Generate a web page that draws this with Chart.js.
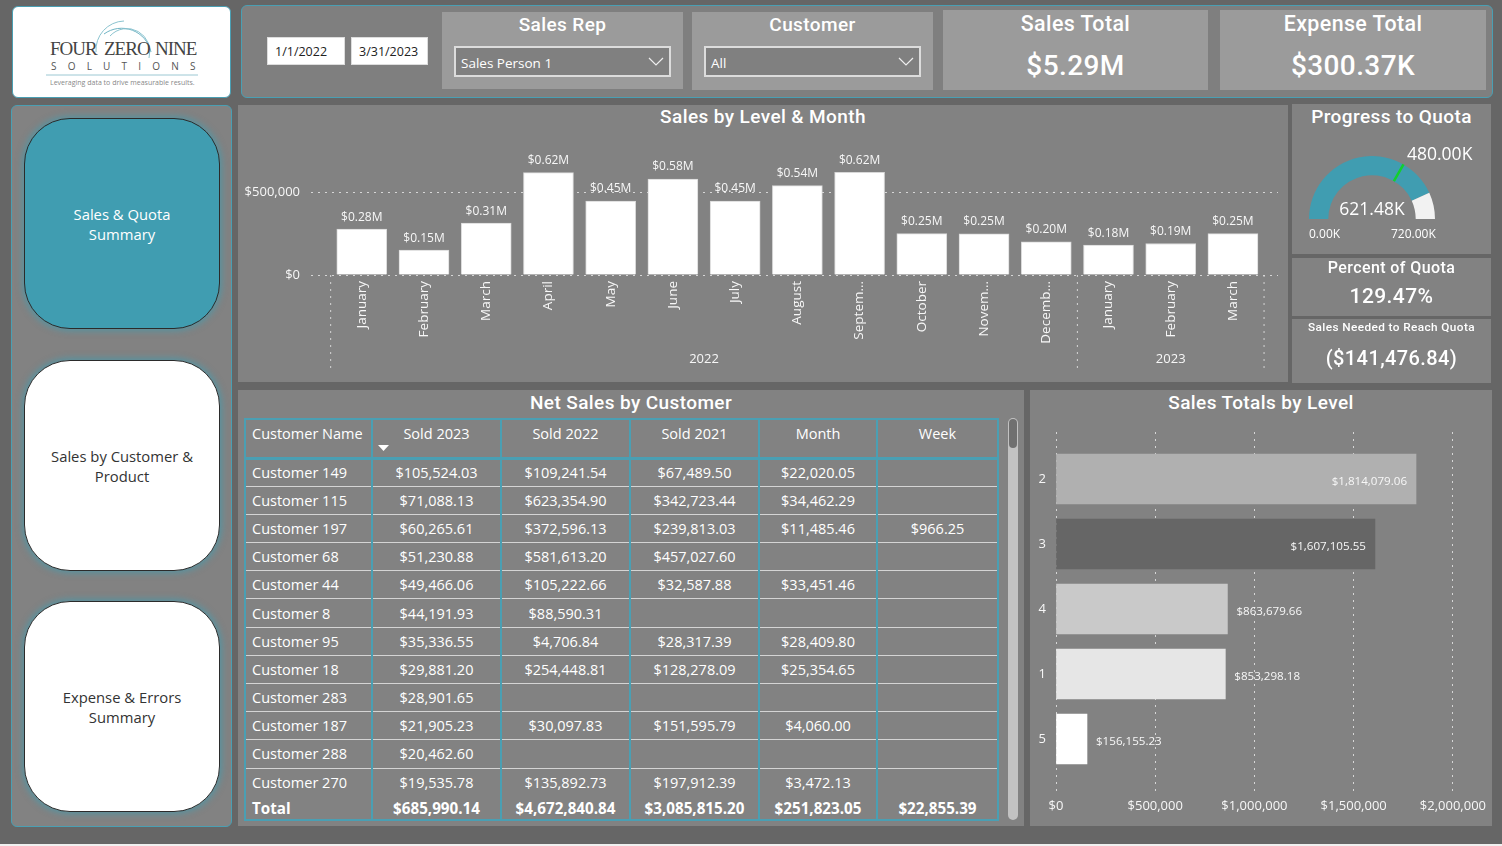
<!DOCTYPE html>
<html>
<head>
<meta charset="utf-8">
<title>Sales Dashboard</title>
<script src="https://cdn.jsdelivr.net/npm/chart.js@4"></script>
<style>
  html, body { margin: 0; padding: 0; }
  body { width: 1502px; height: 846px; background: #666; position: relative; overflow: hidden; font-family: "Open Sans", sans-serif; color: #fff; }
  .box { position: absolute; box-sizing: border-box; }
  .panel { background: #828282; }
  .teal { border: 1px solid #4a9fb3; border-radius: 6px; }
  .card { background: #9b9b9b; }
  .din { font-family: Roboto, sans-serif; font-weight: 500; letter-spacing: .4px; text-align: center; white-space: nowrap; }
  .txt { position: absolute; white-space: nowrap; }
  .date { background: #fff; color: #222; border: 1px solid #ddd; font-size: 12.5px; line-height: 28px; padding-left: 7px; }
  .drop { background: #808080; border: 2px solid #dcdcdc; font-size: 13.5px; line-height: 30px; padding-left: 5px; }
  .drop svg { position: absolute; right: 5px; top: 9px; }
  .nav { border: 1px solid #2b2b2b; border-radius: 46px; box-shadow: 0 0 6px 2px rgba(64,157,177,.65); display: flex; align-items: center; justify-content: center; text-align: center; font-size: 14.8px; line-height: 20px; background: #fff; color: #333; }
  canvas { position: absolute; }
  table { position: absolute; left: 244px; top: 418px; width: 753px; border-collapse: collapse; table-layout: fixed; font-size: 14.5px; }
  th { font-weight: 400; height: 39px; box-sizing: border-box; padding: 0 0 9px; border: 2px solid #4a9fb3; border-width: 2px 2px 3px 2px; position: relative; }
  td { height: 28.2px; padding: 0; text-align: center; border-left: 2px solid #4a9fb3; border-right: 2px solid #4a9fb3; border-bottom: 1px solid #d4d4d4; box-sizing: border-box; white-space: nowrap; }
  td:first-child, th:first-child { text-align: left; padding-left: 6px; }
  tr.last td { border-bottom: none; }
  tr.total td { font-weight: 700; font-size: 15.2px; height: 24px; border-bottom: 2px solid #4a9fb3; }
</style>
</head>
<body>

<div class="box" style="left:12px;top:6px;width:219px;height:92px;background:#fff;border:1px solid #4a9fb3;border-radius:6px;"></div>
<svg class="box" style="left:12px;top:6px;" width="219" height="92">
  <path d="M 84 46 A 29 29 0 0 1 112 15" fill="none" stroke="#8cc4d0" stroke-width="1"/>
  <path d="M 92 28 A 30 30 0 0 1 139 46" fill="none" stroke="#6fb4c4" stroke-width="1"/>
  <path d="M 98 30 A 23 23 0 0 1 137 52" fill="none" stroke="#8cc4d0" stroke-width="1"/>
  <line x1="34" y1="69" x2="186" y2="69" stroke="#9cc8d3" stroke-width="1"/>
  <text x="38" y="49" font-family="Liberation Serif" font-size="19" letter-spacing="-1" fill="#444">FOUR</text>
  <text x="92" y="49" font-family="Liberation Serif" font-size="19" letter-spacing="-1" fill="#444">ZERO</text>
  <text x="143" y="49" font-family="Liberation Serif" font-size="19" letter-spacing="-1" fill="#444">NINE</text>
  <text x="39" y="64" font-family="Open Sans" font-size="10" letter-spacing="11.2" fill="#555">SOLUTIONS</text>
  <text x="38" y="79" font-family="Open Sans" font-size="7" fill="#888">Leveraging data to drive measurable results.</text>
</svg>

<div class="box teal" style="left:241px;top:5px;width:1252px;height:93px;background:#7f7f7f;"></div>
<div class="box date" style="left:267px;top:37px;width:78px;height:28px;">1/1/2022</div>
<div class="box date" style="left:351px;top:37px;width:77px;height:28px;">3/31/2023</div>

<div class="box card" style="left:442px;top:12px;width:241px;height:77px;"></div>
<div class="txt din" style="left:442px;width:241px;top:13px;font-size:19px;">Sales Rep</div>
<div class="box drop" style="left:454px;top:46px;width:217px;height:31px;">Sales Person 1
  <svg width="16" height="10"><polyline points="1,1 8,8 15,1" fill="none" stroke="#eee" stroke-width="1.2"/></svg></div>

<div class="box card" style="left:692px;top:12px;width:241px;height:78px;"></div>
<div class="txt din" style="left:692px;width:241px;top:13px;font-size:19px;">Customer</div>
<div class="box drop" style="left:704px;top:46px;width:217px;height:31px;">All
  <svg width="16" height="10"><polyline points="1,1 8,8 15,1" fill="none" stroke="#eee" stroke-width="1.2"/></svg></div>

<div class="box card" style="left:943px;top:10px;width:265px;height:80px;"></div>
<div class="txt din" style="left:943px;width:265px;top:11px;font-size:21.4px;">Sales Total</div>
<div class="txt din" style="left:943px;width:265px;top:49px;font-size:28px;">$5.29M</div>

<div class="box card" style="left:1220px;top:10px;width:266px;height:80px;"></div>
<div class="txt din" style="left:1220px;width:266px;top:11px;font-size:21.4px;">Expense Total</div>
<div class="txt din" style="left:1220px;width:266px;top:49px;font-size:28px;">$300.37K</div>

<div class="box teal" style="left:11px;top:105px;width:221px;height:722px;background:#828282;"></div>
<div class="box nav" style="left:24px;top:118px;width:196px;height:211px;background:#409db1;color:#fff;">Sales &amp; Quota<br>Summary</div>
<div class="box nav" style="left:24px;top:360px;width:196px;height:211px;">Sales by Customer &amp;<br>Product</div>
<div class="box nav" style="left:24px;top:601px;width:196px;height:211px;">Expense &amp; Errors<br>Summary</div>

<div class="box panel" style="left:238px;top:105px;width:1050px;height:277px;"></div>
<div class="txt din" style="left:238px;width:1050px;top:105px;font-size:19px;">Sales by Level &amp; Month</div>
<canvas id="chartMonths" width="1050" height="277" style="left:238px;top:105px;"></canvas>

<div class="box panel" style="left:1292px;top:104px;width:199px;height:150px;"></div>
<div class="txt din" style="left:1292px;width:199px;top:105px;font-size:19px;">Progress to Quota</div>
<canvas id="chartGauge" width="126" height="63" style="left:1309px;top:156px;"></canvas>
<div class="txt" style="left:1407px;top:141px;font-size:17.5px;" id="gaugeTarget"></div>
<div class="txt" style="left:1292px;width:160px;text-align:center;top:196px;font-size:17.5px;" id="gaugeValue"></div>
<div class="txt" style="left:1309px;top:225px;font-size:12px;" id="gaugeMin"></div>
<div class="txt" style="left:1391px;top:225px;font-size:12px;" id="gaugeMax"></div>

<div class="box panel" style="left:1292px;top:258px;width:199px;height:58px;"></div>
<div class="txt din" style="left:1292px;width:199px;top:258px;font-size:16px;">Percent of Quota</div>
<div class="txt din" style="left:1292px;width:199px;top:284px;font-size:21px;">129.47%</div>

<div class="box panel" style="left:1292px;top:319px;width:199px;height:64px;"></div>
<div class="txt din" style="left:1292px;width:199px;top:320px;font-size:11.8px;">Sales Needed to Reach Quota</div>
<div class="txt din" style="left:1292px;width:199px;top:346px;font-size:20px;">($141,476.84)</div>

<div class="box panel" style="left:238px;top:390px;width:786px;height:436px;"></div>
<div class="txt din" style="left:238px;width:786px;top:391px;font-size:19px;">Net Sales by Customer</div>
<table id="salesTable"></table>
<div class="box" style="left:1008px;top:418px;width:10px;height:402px;background:#c2c2c2;border-radius:5px;"></div>
<div class="box" style="left:1009px;top:419px;width:8px;height:29px;background:#707070;border-radius:4px;"></div>

<div class="box panel" style="left:1030px;top:390px;width:462px;height:436px;"></div>
<div class="txt din" style="left:1030px;width:462px;top:391px;font-size:19px;">Sales Totals by Level</div>
<canvas id="chartLevels" width="462" height="436" style="left:1030px;top:390px;"></canvas>

<div class="box" style="left:0;top:844px;width:1502px;height:2px;background:#f0f0f0;"></div>

<script>
// Datos del grafico de columnas
const monthLabels = ["January", "February", "March", "April", "May", "June", "July", "August", "Septem…", "October", "Novem…", "Decemb…", "January", "February", "March"];
const monthlySales = [277000, 150000, 313000, 618000, 447000, 580000, 447000, 540000, 620000, 250000, 248000, 200000, 180000, 190000, 250000];
const salesTicks = [0, 500000];
const yearLabels = ["2022", "2023"];
const yearCenters = [5.5, 13];
const yearBreaks = [-0.5, 11.5, 14.5];

// Barras horizontales por nivel
const levelNames = ["2", "3", "4", "1", "5"];
const levelTotals = [1814079.06, 1607105.55, 863679.66, 853298.18, 156155.23];

// Indicador de cuota
const quotaValue = 621.48;
const quotaTarget = 480;
const quotaMax = 720;

// Tabla de clientes
const tableHeaders = ["Customer Name", "Sold 2023", "Sold 2022", "Sold 2021", "Month", "Week"];
const customerNames = ["Customer 149", "Customer 115", "Customer 197", "Customer 68", "Customer 44", "Customer 8", "Customer 95", "Customer 18", "Customer 283", "Customer 187", "Customer 288", "Customer 270"];
const sold2023 = [105524.03, 71088.13, 60265.61, 51230.88, 49466.06, 44191.93, 35336.55, 29881.20, 28901.65, 21905.23, 20462.60, 19535.78];
const sold2022 = [109241.54, 623354.90, 372596.13, 581613.20, 105222.66, 88590.31, 4706.84, 254448.81, null, 30097.83, null, 135892.73];
const sold2021 = [67489.50, 342723.44, 239813.03, 457027.60, 32587.88, null, 28317.39, 128278.09, null, 151595.79, null, 197912.39];
const soldMonth = [22020.05, 34462.29, 11485.46, null, 33451.46, null, 28409.80, 25354.65, null, 4060.00, null, 3472.13];
const soldWeek = [null, null, 966.25, null, null, null, null, null, null, null, null, null];
const tableTotals = [685990.14, 4672840.84, 3085815.20, 251823.05, 22855.39];

const white = "#f7f7f7";
const dots = "#d6d6d6";
const teal = "#409db1";
Chart.defaults.font.family = '"Open Sans", sans-serif';
Chart.defaults.font.size = 13;
Chart.defaults.color = white;
Chart.defaults.animation = false;
Chart.defaults.plugins.legend.display = false;
Chart.defaults.plugins.tooltip.enabled = false;

const money = (v) => "$" + v.toLocaleString("en-US", { minimumFractionDigits: 2, maximumFractionDigits: 2 });
const wholeMoney = (v) => "$" + v.toLocaleString("en-US");

// Etiquetas sobre las columnas
const monthLabelsPlugin = {
    id: "monthLabels",
    afterDatasetsDraw(chart) {
        const ctx = chart.ctx;
        ctx.save();
        ctx.font = '12px "Open Sans"';
        ctx.fillStyle = white;
        ctx.textAlign = "center";
        ctx.textBaseline = "bottom";
        chart.getDatasetMeta(0).data.forEach((bar, i) => {
            ctx.fillText("$" + (monthlySales[i] / 1000000).toFixed(2) + "M", bar.x, bar.y - 6);
        });
        ctx.restore();
    }
};

// Lineas punteadas que separan los anios
const yearBreaksPlugin = {
    id: "yearBreaks",
    afterDraw(chart) {
        const ctx = chart.ctx;
        const x = chart.scales.x;
        ctx.save();
        ctx.strokeStyle = dots;
        ctx.setLineDash([2, 5]);
        yearBreaks.forEach((b) => {
            ctx.beginPath();
            ctx.moveTo(x.getPixelForValue(b), chart.chartArea.bottom);
            ctx.lineTo(x.getPixelForValue(b), chart.scales.xYear.bottom - 14);
            ctx.stroke();
        });
        ctx.restore();
    }
};

new Chart(document.getElementById("chartMonths"), {
    type: "bar",
    data: {
        labels: monthLabels.map((m, i) => i),
        datasets: [{ data: monthlySales, backgroundColor: "#ffffff", borderColor: "#d8d8d8", borderWidth: 1, barThickness: 50 }]
    },
    options: {
        responsive: false,
        layout: { padding: { top: 45, right: 10, left: 0, bottom: 0 } },
        scales: {
            x: {
                type: "linear", offset: false, min: -0.816, max: 14.724,
                grid: { display: false, drawTicks: false }, border: { display: false },
                afterBuildTicks: (s) => { s.ticks = monthLabels.map((m, i) => ({ value: i })); },
                afterFit: (s) => { s.height = 72; },
                ticks: { font: { size: 13.5 }, minRotation: 90, maxRotation: 90, autoSkip: false, padding: 6, callback: (v) => monthLabels[v] }
            },
            xYear: {
                type: "linear", axis: "x", position: "bottom", weight: 1, offset: false, min: -0.816, max: 14.724,
                grid: { display: false, drawTicks: false }, border: { display: false },
                afterBuildTicks: (s) => { s.ticks = yearCenters.map((v) => ({ value: v })); },
                afterFit: (s) => { s.height = 35; },
                ticks: { maxRotation: 0, autoSkip: false, padding: 4, callback: (v) => yearLabels[yearCenters.indexOf(v)] }
            },
            y: {
                min: 0, max: 755000,
                grid: { color: dots, drawTicks: false }, border: { display: false, dash: [2, 5] },
                afterBuildTicks: (s) => { s.ticks = salesTicks.map((v) => ({ value: v })); },
                afterFit: (s) => { s.width = 73; },
                ticks: { padding: 11, callback: (v) => wholeMoney(v) }
            }
        }
    },
    plugins: [monthLabelsPlugin, yearBreaksPlugin]
});

// Marca verde del objetivo sobre el medidor
const quotaTargetPlugin = {
    id: "quotaTarget",
    afterDatasetsDraw(chart) {
        const arc = chart.getDatasetMeta(0).data[0];
        const angle = Math.PI + Math.PI * quotaTarget / quotaMax;
        const ctx = chart.ctx;
        ctx.save();
        ctx.strokeStyle = "#12d02c";
        ctx.lineWidth = 2.5;
        ctx.beginPath();
        ctx.moveTo(arc.x + Math.cos(angle) * arc.innerRadius, arc.y + Math.sin(angle) * arc.innerRadius);
        ctx.lineTo(arc.x + Math.cos(angle) * arc.outerRadius, arc.y + Math.sin(angle) * arc.outerRadius);
        ctx.stroke();
        ctx.restore();
    }
};

new Chart(document.getElementById("chartGauge"), {
    type: "doughnut",
    data: {
        datasets: [{ data: [quotaValue, quotaMax - quotaValue], backgroundColor: [teal, "#f2f2f2"], borderWidth: 0 }]
    },
    options: { responsive: false, rotation: -90, circumference: 180, cutout: "69.4%" },
    plugins: [quotaTargetPlugin]
});

document.getElementById("gaugeTarget").textContent = quotaTarget.toFixed(2) + "K";
document.getElementById("gaugeValue").textContent = quotaValue.toFixed(2) + "K";
document.getElementById("gaugeMin").textContent = "0.00K";
document.getElementById("gaugeMax").textContent = quotaMax.toFixed(2) + "K";

// Etiquetas de las barras horizontales
const levelLabelsPlugin = {
    id: "levelLabels",
    afterDatasetsDraw(chart) {
        const ctx = chart.ctx;
        ctx.save();
        ctx.font = '11.6px "Open Sans"';
        ctx.fillStyle = white;
        ctx.textBaseline = "middle";
        chart.getDatasetMeta(0).data.forEach((bar, i) => {
            const inside = levelTotals[i] > 1000000;
            ctx.textAlign = inside ? "right" : "left";
            ctx.fillText(money(levelTotals[i]), bar.x + (inside ? -9 : 9), bar.y + 3);
        });
        ctx.restore();
    }
};

new Chart(document.getElementById("chartLevels"), {
    type: "bar",
    data: {
        labels: levelNames.map((n, i) => i),
        datasets: [{
            data: levelTotals,
            backgroundColor: ["#b0b0b0", "#666666", "#c9c9c9", "#e6e6e6", "#ffffff"],
            borderWidth: 0,
            barThickness: 50
        }]
    },
    options: {
        indexAxis: "y",
        responsive: false,
        layout: { padding: { top: 42, right: 39, left: 0, bottom: 0 } },
        scales: {
            x: {
                min: 0, max: 2000000,
                grid: { color: dots, drawTicks: false }, border: { display: false, dash: [2, 5] },
                afterFit: (s) => { s.height = 34; },
                ticks: { stepSize: 500000, padding: 6, maxRotation: 0, callback: (v) => wholeMoney(v) }
            },
            y: {
                type: "linear", offset: false, reverse: true, min: -0.723, max: 4.815,
                grid: { display: false, drawTicks: false }, border: { display: false },
                afterBuildTicks: (s) => { s.ticks = levelNames.map((n, i) => ({ value: i })); },
                afterFit: (s) => { s.width = 26; },
                ticks: { autoSkip: false, padding: 10, callback: (v) => levelNames[v] }
            }
        }
    },
    plugins: [levelLabelsPlugin]
});

// Arma la tabla de clientes desde los arreglos
const cell = (v) => (v === null ? "" : money(v));
const table = document.getElementById("salesTable");
const colWidths = [127, 129, 129, 129, 118, 121];
let rows = "<colgroup>" + colWidths.map((w) => `<col style="width:${w}px">`).join("") + "</colgroup>";
rows += "<tr>" + tableHeaders.map((h) => `<th>${h}</th>`).join("") + "</tr>";
customerNames.forEach((name, i) => {
    const last = i === customerNames.length - 1 ? ' class="last"' : "";
    rows += `<tr${last}><td>${name}</td><td>${cell(sold2023[i])}</td><td>${cell(sold2022[i])}</td><td>${cell(sold2021[i])}</td><td>${cell(soldMonth[i])}</td><td>${cell(soldWeek[i])}</td></tr>`;
});
rows += '<tr class="total"><td>Total</td>' + tableTotals.map((v) => `<td>${money(v)}</td>`).join("") + "</tr>";
table.innerHTML = rows;
table.querySelectorAll("th")[1].insertAdjacentHTML("beforeend",
    '<svg style="position:absolute;left:5px;top:25px" width="12" height="7"><polygon points="0,0 11,0 5.5,6" fill="#fff"/></svg>');
</script>
</body>
</html>
